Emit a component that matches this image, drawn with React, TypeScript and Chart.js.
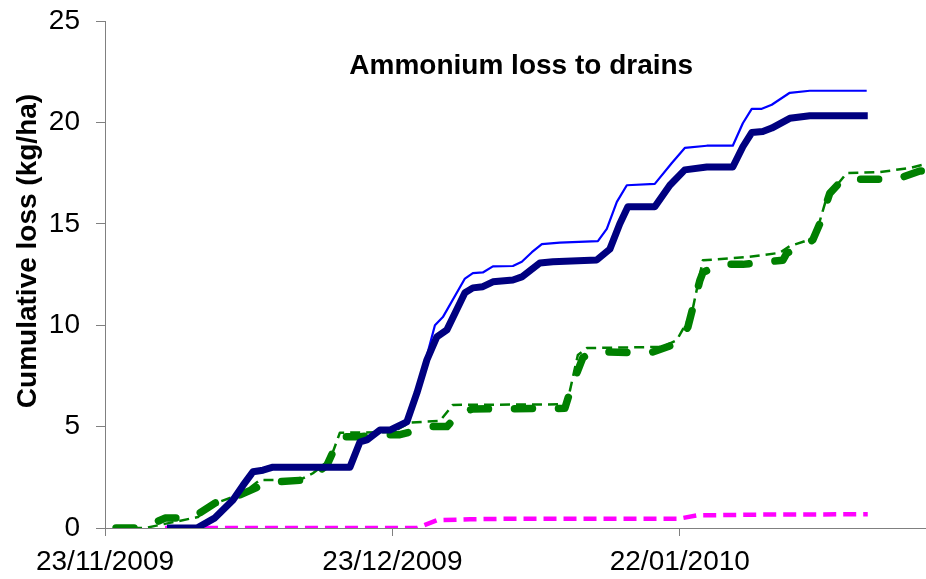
import React, { useEffect, useRef } from "react";
import { Chart, registerables } from "chart.js";

Chart.register(...registerables);

// x values are days after 23/11/2009
const tickDays = [0, 30, 60];
const tickLabels = ["23/11/2009", "23/12/2009", "22/01/2010"];
const xMaxDays = 85.7;

const thinBlueDays = [6.47, 9.6, 11.48, 13.36, 14.4, 15.44, 16.49, 17.53, 25.57, 26.61, 27.34, 28.7, 29.74, 31.51, 32.56, 33.6, 34.44, 35.27, 37.57, 38.4, 39.44, 40.49, 42.58, 43.51, 44.56, 45.6, 47.48, 51.45, 52.38, 53.43, 54.47, 57.39, 59.17, 60.52, 62.82, 65.53, 66.58, 67.51, 68.56, 69.6, 71.48, 73.57, 79.51];
const thinBlueLoss = [0, 0, 0.5, 1.38, 2.1, 2.77, 2.85, 3.0, 3.0, 4.24, 4.34, 4.83, 4.83, 5.23, 6.7, 8.5, 10.0, 10.4, 12.3, 12.57, 12.6, 12.9, 12.92, 13.13, 13.6, 14.0, 14.07, 14.15, 14.75, 16.08, 16.9, 16.97, 18.0, 18.74, 18.85, 18.85, 19.96, 20.67, 20.67, 20.87, 21.46, 21.56, 21.56];

const navyDays = [6.47, 9.6, 11.48, 13.36, 14.4, 15.44, 16.49, 17.53, 25.57, 26.61, 27.34, 28.7, 29.74, 31.51, 32.56, 33.6, 34.64, 35.69, 37.57, 38.4, 39.44, 40.49, 42.58, 43.51, 45.39, 46.75, 51.34, 52.7, 53.74, 54.58, 57.39, 58.96, 60.52, 62.82, 65.53, 66.58, 67.51, 68.66, 69.6, 71.48, 73.57, 79.62];
const navyLoss = [0, 0, 0.5, 1.38, 2.1, 2.77, 2.85, 3.0, 3.0, 4.24, 4.34, 4.83, 4.83, 5.23, 6.66, 8.29, 9.42, 9.77, 11.6, 11.84, 11.9, 12.14, 12.23, 12.38, 13.07, 13.13, 13.22, 13.75, 15.0, 15.84, 15.84, 16.9, 17.66, 17.8, 17.8, 18.8, 19.5, 19.55, 19.72, 20.2, 20.33, 20.33];

const thinGreenDays = [1.15, 4.17, 9.7, 10.96, 13.36, 14.82, 16.17, 20.35, 21.7, 23.48, 24.52, 30.05, 31.83, 34.96, 36.31, 48.21, 49.36, 50.3, 58.23, 59.69, 61.26, 62.41, 67.3, 70.44, 71.48, 74.09, 75.34, 77.43, 80.87, 84.0, 85.67];
const thinGreenLoss = [0, 0, 0.54, 1.13, 1.53, 1.87, 2.37, 2.37, 2.7, 3.35, 4.7, 4.73, 5.2, 5.28, 6.07, 6.1, 8.53, 8.87, 8.93, 9.27, 10.6, 13.2, 13.37, 13.57, 13.9, 14.3, 16.3, 17.5, 17.55, 17.75, 17.95];

const thickGreenDays = [1.15, 3.97, 6.26, 9.08, 11.48, 13.36, 15.86, 17.53, 21.08, 23.17, 24.52, 26.61, 29.01, 30.78, 33.91, 35.69, 37.04, 38.4, 48.0, 48.73, 49.88, 50.92, 56.87, 59.69, 60.84, 62.09, 62.41, 64.19, 66.58, 70.75, 71.17, 73.88, 74.61, 75.65, 77.01, 82.65, 85.05, 85.67];
const thickGreenLoss = [0, 0, 0.49, 0.49, 1.23, 1.48, 2.0, 2.27, 2.37, 3.1, 4.5, 4.5, 4.6, 4.6, 5.0, 5.0, 5.7, 5.87, 5.9, 7.0, 8.4, 8.7, 8.63, 9.1, 9.9, 12.2, 12.6, 13.0, 13.0, 13.2, 13.55, 14.2, 15.0, 16.5, 17.2, 17.2, 17.6, 17.6];

const magentaDays = [6.26, 32.56, 34.64, 38.09, 41.22, 59.9, 61.78, 68.35, 79.62];
const magentaLoss = [0, 0, 0.38, 0.43, 0.45, 0.46, 0.62, 0.66, 0.68];

const chartTitle = "Ammonium loss to drains";
const yAxisTitle = "Cumulative loss (kg/ha)";

const FONT = '"Liberation Sans", Arial, sans-serif';

function pts(xs: number[], ys: number[]) {
  return xs.map((x, i) => ({ x, y: ys[i] }));
}

const textPlugin = {
  id: "textPlugin",
  afterDraw(chart: any) {
    const { ctx, chartArea } = chart;
    ctx.save();
    ctx.fillStyle = "#000";
    ctx.font = `bold 28px ${FONT}`;
    ctx.textAlign = "center";
    ctx.textBaseline = "alphabetic";
    const tx = chartArea.left + (chartArea.right - chartArea.left) * 0.507;
    const ty = chartArea.top + (chartArea.bottom - chartArea.top) * 0.1045;
    ctx.fillText(chartTitle, tx, ty);
    ctx.translate(28.5, 251);
    ctx.rotate(-Math.PI / 2);
    ctx.textBaseline = "middle";
    ctx.fillText(yAxisTitle, 0, 0);
    ctx.restore();
  },
};

export default function App() {
  const ref = useRef<HTMLCanvasElement | null>(null);
  useEffect(() => {
    document.body.style.margin = "0";
    if (!ref.current) return;
    const chart = new Chart(ref.current, {
      type: "line",
      data: {
        datasets: [
          {
            label: "navy",
            data: pts(navyDays, navyLoss),
            borderColor: "#000080",
            borderWidth: 7,
            order: 1,
          },
          {
            label: "thin blue",
            data: pts(thinBlueDays, thinBlueLoss),
            borderColor: "#0000FF",
            borderWidth: 2.2,
            order: 2,
          },
          {
            label: "thin green",
            data: pts(thinGreenDays, thinGreenLoss),
            borderColor: "#008000",
            borderWidth: 2.5,
            borderDash: [10, 6],
            order: 3,
          },
          {
            label: "thick green",
            data: pts(thickGreenDays, thickGreenLoss),
            borderColor: "#008000",
            borderWidth: 7.5,
            borderDash: [18, 26],
            borderCapStyle: "round",
            order: 4,
          },
          {
            label: "magenta",
            data: pts(magentaDays, magentaLoss),
            borderColor: "#FF00FF",
            borderWidth: 4.5,
            borderDash: [13, 7],
            order: 5,
          },
        ].map((d) => ({
          ...d,
          pointRadius: 0,
          tension: 0,
          fill: false,
          borderJoinStyle: "round" as const,
        })),
      },
      options: {
        responsive: false,
        animation: false,
        layout: { padding: { top: 21, right: 0, left: 0, bottom: 0 } },
        plugins: {
          legend: { display: false },
          tooltip: { enabled: false },
          title: { display: false },
        },
        scales: {
          x: {
            type: "linear",
            min: 0,
            max: xMaxDays,
            afterFit: (s: any) => {
              s.height = 51;
              s.paddingLeft = 0;
              s.paddingRight = 0;
            },
            afterBuildTicks: (s: any) => {
              s.ticks = tickDays.map((v) => ({ value: v }));
            },
            ticks: {
              autoSkip: false,
              maxRotation: 0,
              padding: 9,
              color: "#000",
              font: { family: FONT, size: 28 },
              callback: (v: any) => {
                const i = tickDays.indexOf(Number(v));
                return i >= 0 ? tickLabels[i] : "";
              },
            },
            grid: {
              display: true,
              drawOnChartArea: false,
              drawTicks: true,
              tickLength: 8,
              color: "#808080",
            },
            border: { display: true, color: "#808080", width: 1 },
          },
          y: {
            type: "linear",
            min: 0,
            max: 25,
            afterFit: (s: any) => {
              s.width = 105;
              s.paddingTop = 0;
              s.paddingBottom = 0;
            },
            ticks: {
              stepSize: 5,
              padding: 16,
              color: "#000",
              font: { family: FONT, size: 28 },
            },
            grid: {
              display: true,
              drawOnChartArea: false,
              drawTicks: true,
              tickLength: 9,
              color: "#808080",
            },
            border: { display: true, color: "#808080", width: 1 },
          },
        },
      },
      plugins: [textPlugin],
    });
    return () => chart.destroy();
  }, []);
  return (
    <div style={{ width: 926, height: 579, background: "#fff" }}>
      <canvas ref={ref} width={926} height={579} style={{ display: "block" }} />
    </div>
  );
}
